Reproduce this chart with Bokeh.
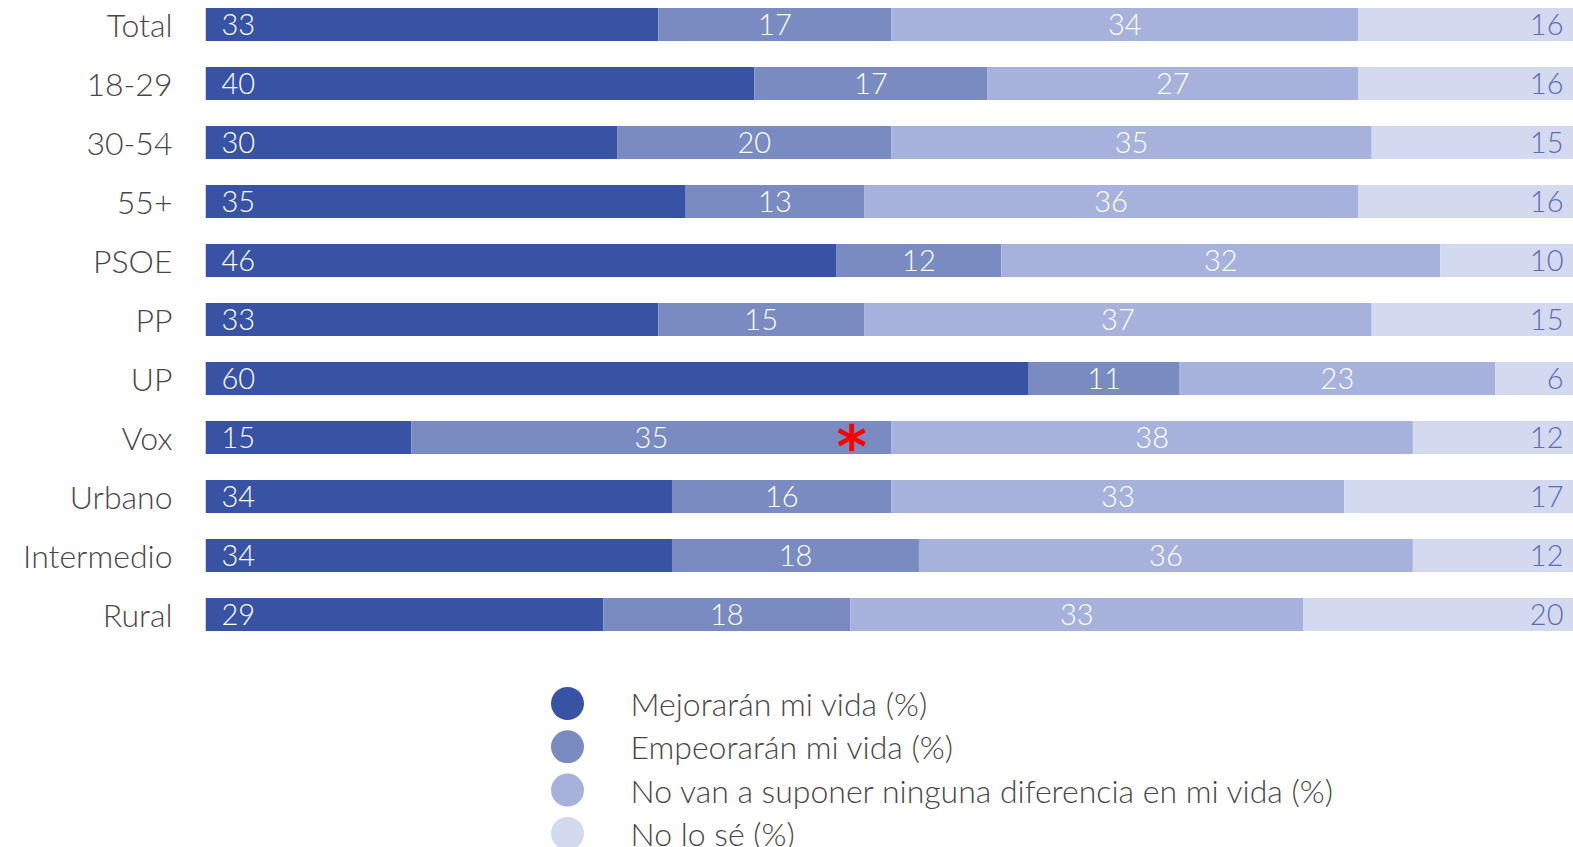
from bokeh.plotting import figure
from bokeh.models import ColumnDataSource, Range1d, LinearAxis, FixedTicker
from bokeh.core.properties import value
from bokeh.embed import file_html
from bokeh.resources import INLINE

categories = ["Total", "18-29", "30-54", "55+", "PSOE", "PP", "UP", "Vox", "Urbano", "Intermedio", "Rural"]
mejoraran = [33, 40, 30, 35, 46, 33, 60, 15, 34, 34, 29]
empeoraran = [17, 17, 20, 13, 12, 15, 11, 35, 16, 18, 18]
no_diferencia = [34, 27, 35, 36, 32, 37, 23, 38, 33, 36, 33]
no_lo_se = [16, 16, 15, 16, 10, 15, 6, 12, 17, 12, 20]
series_names = ["Mejorarán mi vida (%)", "Empeorarán mi vida (%)",
                "No van a suponer ninguna diferencia en mi vida (%)", "No lo sé (%)"]
colors = ["#3853a4", "#7a8bc1", "#a7b2dc", "#d3d9ee"]
asterisk_category = "Vox"

FONT = "Lato Light"
W, H = 1573, 847
LEFT = 205
PX_PER_UNIT = 13.72
ROW_PX = 59
TOP_PX = 24

x_end = (W - LEFT) / PX_PER_UNIT
p = figure(width=W, height=H, output_backend="svg", toolbar_location=None,
           x_range=Range1d(0, x_end),
           y_range=Range1d((H - TOP_PX) / ROW_PX, -TOP_PX / ROW_PX),
           min_border_left=LEFT, min_border_right=0, min_border_top=0, min_border_bottom=0,
           x_axis_location=None, y_axis_location=None)
p.outline_line_color = None
p.xgrid.visible = False
p.ygrid.visible = False
p.background_fill_color = "white"

ys = list(range(len(categories)))
src = ColumnDataSource(dict(y=ys, a=mejoraran, b=empeoraran, c=no_diferencia, d=no_lo_se))
p.hbar_stack(["a", "b", "c", "d"], y="y", height=33 / ROW_PX, color=colors,
             line_color=None, source=src)

# axis with category labels
ax = LinearAxis(ticker=FixedTicker(ticks=ys),
                major_label_overrides={i: c for i, c in enumerate(categories)})
ax.axis_line_color = None
ax.major_tick_line_color = None
ax.minor_tick_line_color = None
ax.major_tick_out = 0
ax.major_tick_in = 0
ax.major_label_standoff = 33
ax.major_label_text_font = FONT
ax.major_label_text_font_size = "32px"
ax.major_label_text_color = "#474747"
p.add_layout(ax, "left")

# value labels
c1 = mejoraran
c2 = [a + b for a, b in zip(mejoraran, empeoraran)]
c3 = [a + b for a, b in zip(c2, no_diferencia)]
first = ColumnDataSource(dict(x=[16 / PX_PER_UNIT] * len(ys), y=ys, t=[str(v) for v in mejoraran]))
mid2 = ColumnDataSource(dict(x=[(a + b) / 2 for a, b in zip(c1, c2)], y=ys, t=[str(v) for v in empeoraran]))
mid3 = ColumnDataSource(dict(x=[(a + b) / 2 for a, b in zip(c2, c3)], y=ys, t=[str(v) for v in no_diferencia]))
last = ColumnDataSource(dict(x=[x_end - 10 / PX_PER_UNIT] * len(ys), y=ys, t=[str(v) for v in no_lo_se]))
common = dict(text="t", text_font=value(FONT), text_font_size="29px", text_baseline="middle")
p.text(x="x", y="y", source=first, text_color="white", text_align="left", **common)
p.text(x="x", y="y", source=mid2, text_color="white", text_align="center", **common)
p.text(x="x", y="y", source=mid3, text_color="white", text_align="center", **common)
p.text(x="x", y="y", source=last, text_color="#5b6eb5", text_align="right", **common)

# red asterisk on Vox
vi = categories.index(asterisk_category)
p.text(x=[c2[vi] - 2.9], y=[vi], text=["*"], text_color="#ff0000",
       text_font=value("DejaVu Sans"), text_font_style="bold", text_font_size="58px",
       text_align="center", text_baseline="alphabetic", y_offset=9)

# legend
leg_x = (567 - LEFT) / PX_PER_UNIT
leg_tx = (630 - LEFT) / PX_PER_UNIT
leg_y0 = (703 - TOP_PX) / ROW_PX
leg_dy = 43.3 / ROW_PX
leg_ys = [leg_y0 + i * leg_dy for i in range(4)]
p.scatter(x=[leg_x] * 4, y=leg_ys, size=33, color=colors, line_color=None)
p.text(x=[leg_tx] * 4, y=leg_ys, text=series_names, text_font=value(FONT),
       text_font_size="32px", text_color="#474747", text_baseline="middle", text_align="left")

open("out.html", "w").write(file_html(p, INLINE))
